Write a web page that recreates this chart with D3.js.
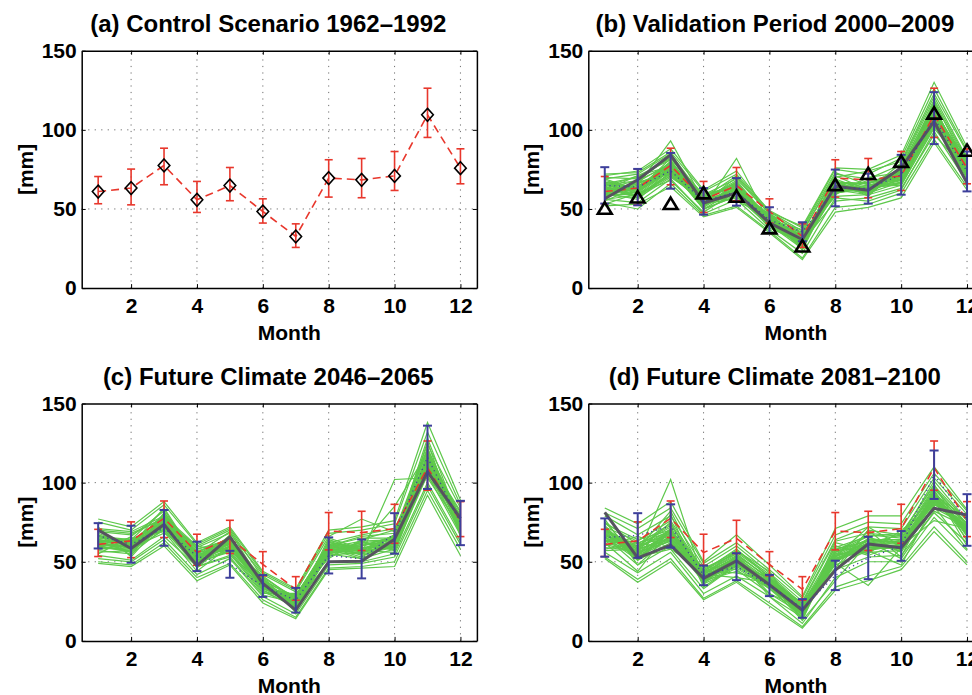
<!DOCTYPE html>
<html>
<head>
<meta charset="utf-8">
<script src="https://cdn.jsdelivr.net/npm/d3@7"></script>
<style>
  body { margin: 0; background: #fff; }
  svg { display: block; }
  text { font-family: "Liberation Sans", Arial, Helvetica, sans-serif; font-weight: bold; fill: #000; }
</style>
</head>
<body>
<svg id="chart" width="972" height="695"></svg>
<script>
// ---- data ----
const months = [1, 2, 3, 4, 5, 6, 7, 8, 9, 10, 11, 12];
const xTicks = [2, 4, 6, 8, 10, 12];
const yTicks = [0, 50, 100, 150];
const xLabel = "Month";
const yLabel = "[mm]";
const titles = [
  "(a) Control Scenario 1962\u20131992",
  "(b) Validation Period 2000\u20132009",
  "(c) Future Climate 2046\u20132065",
  "(d) Future Climate 2081\u20132100"
];

// observed monthly precipitation, control period 1962-1992 (mean and spread)
const obsMean = [61.0, 63.2, 77.5, 55.8, 64.8, 48.4, 32.6, 69.5, 68.4, 70.9, 109.5, 75.8];
const obsLo   = [53.3, 52.6, 65.3, 47.8, 55.2, 41.1, 25.7, 57.5, 57.1, 61.7, 95.2, 65.9];
const obsHi   = [70.5, 75.2, 88.4, 67.4, 76.2, 56.4, 40.6, 81.1, 81.9, 86.3, 126.3, 88.0];

// observed monthly means, validation period 2000-2009
const validObs = [50.4, 57.5, 53.4, 60.1, 58.0, 38.0, 26.5, 65.3, 72.3, 80.0, 110.5, 87.0];

// single downscaled run (thick grey line)
const runB = [56.5, 68.5, 84.2, 53.8, 60.1, 41.2, 30.7, 64.3, 61.8, 76.0, 105.3, 66.4];
const runC = [70.0, 58.4, 73.6, 47.5, 65.8, 36.3, 19.4, 50.0, 50.4, 64.3, 107.0, 77.4];
const runD = [81.2, 52.5, 60.5, 39.5, 50.6, 35.5, 19.4, 44.7, 61.2, 58.9, 83.8, 79.5];

// ensemble mean and spread (blue)
const ensMeanB = [64.9, 63.8, 74.1, 54.8, 60.8, 43.0, 35.6, 63.3, 62.9, 71.6, 107.4, 73.7];
const ensSdB   = [11.5, 11.5, 11.3, 8.4, 8.7, 8.1, 6.0, 11.6, 9.5, 12.6, 16.4, 12.6];
const ensMeanC = [66.4, 61.1, 71.4, 53.4, 48.4, 34.7, 25.7, 54.0, 51.8, 67.9, 116.0, 74.5];
const ensSdC   = [8.0, 11.7, 11.3, 9.3, 8.5, 6.9, 7.8, 11.4, 12.3, 12.8, 20.0, 14.0];
const ensMeanD = [65.3, 66.6, 72.6, 41.4, 46.9, 35.0, 20.5, 41.4, 52.4, 60.0, 105.0, 76.4];
const ensSdD   = [12.1, 14.1, 13.7, 6.2, 8.5, 6.7, 5.9, 9.3, 13.4, 9.4, 15.3, 16.3];

// ensemble members (green), one row per member, Jan..Dec
const membersB = [
  [62,66,74,55,63,45,28,64,60,72,110,78],
  [58,61,79,52,66,41,31,60,63,68,104,73],
  [66,58,71,57,60,44,26,67,66,74,115,70],
  [55,64,77,50,58,39,33,58,59,65,101,76],
  [70,69,84,54,70,47,30,71,62,79,121,82],
  [60,56,73,59,64,42,35,62,68,70,107,69],
  [64,71,81,53,57,46,24,65,61,76,112,80],
  [53,60,68,48,61,38,29,55,57,63,97,74],
  [68,63,76,56,68,43,37,73,65,71,118,77],
  [61,65,93,55,62,44,30,63,64,70,108,75],
  [63,59,75,51,82,41,27,66,60,67,109,72],
  [57,67,72,58,55,45,32,59,70,73,103,79],
  [67,62,80,52,65,40,25,68,58,77,116,71],
  [59,57,70,56,59,47,34,61,63,66,106,84],
  [72,73,86,61,72,49,38,75,72,82,126,87],
  [56,54,69,47,56,37,22,57,55,62,99,67],
  [65,68,83,55,67,43,28,66,66,75,113,78],
  [62,62,74,60,63,46,31,69,61,69,111,73],
  [54,50,66,46,52,36,19,51,53,60,94,64],
  [69,72,85,57,71,48,36,70,74,80,123,86],
  [60,64,78,53,60,42,29,64,67,68,105,76],
  [64,58,73,58,66,44,33,62,59,74,110,70],
  [58,66,75,50,58,40,27,60,64,65,102,79],
  [66,70,82,59,69,47,35,72,69,78,119,81],
  [71,74,88,62,74,48,39,76,75,84,130,89],
  [52,53,64,45,51,35,18,48,51,57,92,62],
  [63,61,77,54,62,43,30,65,62,71,108,75],
  [61,67,79,51,64,45,32,63,65,69,112,77],
  [67,63,78,57,65,41,26,67,60,75,114,74],
  [59,59,72,53,61,42,29,61,63,67,104,72],
  [60,63,80,56,60,43,33,66,61,71,111,76],
  [65,60,76,53,63,46,29,62,64,73,109,74],
  [57,65,73,55,67,40,31,64,62,69,106,78],
  [63,68,78,52,61,44,27,67,66,72,114,73],
  [69,62,82,57,64,42,34,63,60,76,117,80],
  [56,59,71,54,58,45,30,60,65,66,103,71],
  [62,71,77,58,66,41,28,65,63,70,113,77],
  [64,57,75,50,62,46,32,68,59,74,107,75],
  [59,64,79,56,60,43,26,61,67,68,110,79],
  [66,61,74,53,65,40,30,64,62,73,115,72]
];
const membersC = [
  [63,56,79,53,66,35,27,58,52,62,118,73],
  [58,62,70,49,57,40,21,63,57,56,108,80],
  [68,60,74,57,61,32,24,55,60,66,112,70],
  [55,66,82,46,64,38,19,61,54,60,126,66],
  [72,53,76,60,55,30,30,52,64,70,104,77],
  [61,59,68,55,69,36,22,65,58,63,115,82],
  [66,64,83,51,59,41,26,56,62,58,110,68],
  [52,50,64,42,52,28,17,48,49,53,98,61],
  [70,68,77,58,63,34,29,60,66,68,122,75],
  [60,57,72,52,60,37,23,54,56,61,113,72],
  [64,61,80,48,67,33,28,59,53,65,117,74],
  [57,55,71,54,58,39,20,62,59,59,106,78],
  [75,70,86,61,71,43,32,68,70,74,132,86],
  [50,48,62,40,49,26,15,46,47,50,95,58],
  [65,63,75,53,62,36,25,57,61,85,119,76],
  [59,58,73,50,56,31,22,58,55,102,103,72],
  [67,54,81,56,65,39,18,64,57,67,120,71],
  [62,65,69,44,60,35,26,53,63,57,109,79],
  [54,51,66,47,53,29,24,50,50,55,100,63],
  [69,67,78,59,68,42,31,66,77,69,124,84],
  [61,60,84,52,62,33,25,59,60,64,128,74],
  [56,57,70,47,54,37,20,55,52,58,105,67],
  [71,69,79,60,70,40,27,62,67,71,114,81],
  [64,62,76,54,63,34,29,60,65,65,116,69],
  [60,56,74,50,58,36,23,57,56,61,111,76],
  [77,72,88,62,72,44,33,70,72,76,138,89],
  [49,47,60,38,48,24,14,45,46,47,92,54],
  [66,63,78,58,64,38,28,61,58,66,121,78],
  [58,59,71,49,57,32,21,56,55,59,107,69],
  [63,61,75,53,61,36,25,58,58,63,112,73],
  [62,59,77,55,64,37,24,59,57,63,115,75],
  [65,63,72,50,60,34,27,56,60,66,111,72],
  [59,57,75,53,66,36,22,61,56,60,118,77],
  [67,61,79,48,62,39,26,58,62,64,113,70],
  [61,64,73,56,59,33,25,60,55,67,120,74],
  [64,58,76,51,63,38,23,57,61,62,109,76],
  [60,62,78,54,61,35,28,62,58,65,116,73],
  [66,60,74,52,65,37,24,55,59,61,114,71],
  [63,56,80,55,58,34,21,59,63,64,117,78],
  [58,61,73,50,62,36,26,57,57,60,110,74]
];
const membersD = [
  [68,55,66,40,50,37,18,52,60,60,90,70],
  [63,60,72,36,46,33,15,56,66,56,86,75],
  [73,51,62,43,54,40,21,48,57,64,95,66],
  [59,57,75,38,44,35,13,58,63,52,82,72],
  [77,48,60,45,57,42,23,46,70,67,99,63],
  [66,62,69,41,52,30,17,60,54,62,92,78],
  [71,53,80,34,48,38,20,51,61,58,88,69],
  [56,43,56,30,41,28,11,40,50,50,78,57],
  [74,64,70,46,55,39,24,63,68,66,101,76],
  [65,58,64,39,49,36,16,54,59,59,87,71],
  [69,52,71,42,53,34,19,50,64,61,93,67],
  [61,56,63,37,47,37,14,55,56,57,84,73],
  [81,71,84,49,62,45,27,67,75,74,106,82],
  [53,39,52,27,38,24,9,34,41,47,72,50],
  [70,59,68,40,51,36,18,53,62,63,91,70],
  [64,55,102,38,49,35,17,52,58,60,89,68],
  [75,61,74,44,56,41,22,57,67,65,97,74],
  [67,54,65,41,50,33,19,49,35,59,90,69],
  [58,62,58,44,43,38,22,44,70,53,95,60],
  [79,67,79,47,60,43,25,64,72,71,103,80],
  [66,48,67,42,40,37,24,53,72,60,76,71],
  [62,44,71,36,53,28,15,60,55,70,85,58],
  [72,63,76,44,58,40,23,59,66,68,98,76],
  [57,58,82,42,57,44,13,38,62,67,93,64],
  [60,66,59,47,45,30,20,45,53,54,81,62],
  [84,74,88,50,67,48,28,71,79,79,110,83],
  [52,37,50,26,37,22,8,32,38,45,69,48],
  [70,60,73,43,55,39,21,56,64,64,96,74],
  [75,53,58,33,48,40,16,62,57,48,86,79],
  [67,56,68,40,51,36,18,52,61,60,91,71],
  [67,57,67,41,51,37,19,53,62,61,92,71],
  [70,53,64,38,49,35,17,51,58,59,89,69],
  [64,59,70,42,53,38,20,55,64,62,94,73],
  [72,55,66,39,47,34,18,50,60,58,88,70],
  [66,51,69,43,52,36,16,54,63,63,91,72],
  [69,58,65,40,50,39,21,52,59,60,90,68],
  [63,54,71,37,54,35,19,56,61,57,93,74],
  [71,56,63,41,48,37,17,49,65,62,87,70],
  [65,60,68,44,51,33,20,54,57,61,92,67],
  [68,52,70,39,49,38,18,51,62,59,89,73]
];

// ---- layout ----
const panelW = 395.2, panelH = 237.4;
const panels = [
  { left: 81.7,  top: 50.7,  title: titles[0], markers: "diamond" },
  { left: 588.3, top: 50.7,  title: titles[1], members: membersB, run: runB, mean: ensMeanB, sd: ensSdB, markers: "triangle" },
  { left: 81.7,  top: 403.5, title: titles[2], members: membersC, run: runC, mean: ensMeanC, sd: ensSdC },
  { left: 588.3, top: 403.5, title: titles[3], members: membersD, run: runD, mean: ensMeanD, sd: ensSdD }
];

const colors = {
  green: "#5ec84b",
  red: "#e8372c",
  blue: "#3d3f9b",
  grey: "#56535f",
  grid: "#6f6f6f"
};

const svg = d3.select("#chart");

panels.forEach(p => {
  const x = d3.scaleLinear().domain([0.5, 12.5]).range([p.left, p.left + panelW]);
  const y = d3.scaleLinear().domain([0, 150]).range([p.top + panelH, p.top]);
  const g = svg.append("g");

  // dotted grid
  g.append("g").selectAll("line.vg").data(xTicks).join("line")
    .attr("x1", d => x(d)).attr("x2", d => x(d))
    .attr("y1", y(0)).attr("y2", y(150))
    .attr("stroke", colors.grid).attr("stroke-width", 1).attr("stroke-dasharray", "1.2,5.3");
  g.append("g").selectAll("line.hg").data(yTicks.slice(1, 3)).join("line")
    .attr("x1", x(0.5)).attr("x2", x(12.5))
    .attr("y1", d => y(d)).attr("y2", d => y(d))
    .attr("stroke", colors.grid).attr("stroke-width", 1).attr("stroke-dasharray", "1.2,5.3");

  const line = d3.line().x((d, i) => x(months[i])).y(d => y(d));

  // ensemble members
  if (p.members) {
    g.append("g").selectAll("path").data(p.members).join("path")
      .attr("d", line).attr("fill", "none")
      .attr("stroke", colors.green).attr("stroke-width", 1.2);
  }

  // observed control climate: dashed red line with error bars
  const errorBars = (sel, lo, hi, color, width, capHalf) => {
    const bars = sel.append("g").attr("stroke", color).attr("stroke-width", width);
    bars.selectAll("line.v").data(months).join("line")
      .attr("x1", m => x(m)).attr("x2", m => x(m))
      .attr("y1", (m, i) => y(lo[i])).attr("y2", (m, i) => y(hi[i]));
    bars.selectAll("line.lo").data(months).join("line")
      .attr("x1", m => x(m) - capHalf).attr("x2", m => x(m) + capHalf)
      .attr("y1", (m, i) => y(lo[i])).attr("y2", (m, i) => y(lo[i]));
    bars.selectAll("line.hi").data(months).join("line")
      .attr("x1", m => x(m) - capHalf).attr("x2", m => x(m) + capHalf)
      .attr("y1", (m, i) => y(hi[i])).attr("y2", (m, i) => y(hi[i]));
  };

  errorBars(g, obsLo, obsHi, colors.red, 1.6, 4);
  g.append("path").datum(obsMean).attr("d", line).attr("fill", "none")
    .attr("stroke", colors.red).attr("stroke-width", 1.6).attr("stroke-dasharray", "8,5");

  if (p.run) {
    // single run
    g.append("path").datum(p.run).attr("d", line).attr("fill", "none")
      .attr("stroke", colors.grey).attr("stroke-width", 3).attr("stroke-linejoin", "round");
    // ensemble mean (dotted) with spread bars
    const lo = p.mean.map((m, i) => m - p.sd[i]);
    const hi = p.mean.map((m, i) => m + p.sd[i]);
    g.append("path").datum(p.mean).attr("d", line).attr("fill", "none")
      .attr("stroke", colors.blue).attr("stroke-width", 1.3).attr("stroke-dasharray", "1.2,3.5");
    errorBars(g, lo, hi, colors.blue, 2, 4.5);
  }

  if (p.markers === "diamond") {
    g.append("g").selectAll("path").data(obsMean).join("path")
      .attr("transform", (d, i) => `translate(${x(months[i])},${y(d)})`)
      .attr("d", "M0,-6.4L5.8,0L0,6.4L-5.8,0Z")
      .attr("fill", "none").attr("stroke", "#000").attr("stroke-width", 1.6);
  }
  if (p.markers === "triangle") {
    g.append("g").selectAll("path").data(validObs).join("path")
      .attr("transform", (d, i) => `translate(${x(months[i])},${y(d)})`)
      .attr("d", "M0,-6L6.9,5.4L-6.9,5.4Z")
      .attr("fill", "none").attr("stroke", "#000").attr("stroke-width", 2.6)
      .attr("stroke-linejoin", "miter");
  }

  // axes box with inward ticks
  const ax = svg.append("g");
  ax.append("g").attr("transform", `translate(0,${y(0)})`)
    .call(d3.axisBottom(x).tickValues(xTicks).tickSize(-4).tickPadding(10).tickSizeOuter(0));
  ax.append("g").attr("transform", `translate(${x(0.5)},0)`)
    .call(d3.axisLeft(y).tickValues(yTicks).tickSize(-4).tickPadding(5).tickSizeOuter(0));
  ax.append("g").attr("transform", `translate(0,${y(150)})`)
    .call(d3.axisTop(x).tickValues(xTicks).tickSize(-4).tickFormat("").tickSizeOuter(0));
  ax.append("g").attr("transform", `translate(${x(12.5)},0)`)
    .call(d3.axisRight(y).tickValues(yTicks).tickSize(-4).tickFormat("").tickSizeOuter(0));
  ax.selectAll(".domain").attr("stroke", "#000").attr("stroke-width", 1.5);
  ax.selectAll(".tick line").attr("stroke", "#000").attr("stroke-width", 1);
  ax.selectAll(".tick text").attr("font-size", 21).attr("font-family", null).attr("fill", "#000");

  // titles and axis labels
  const cx = (x(0.5) + x(12.5)) / 2;
  svg.append("text").attr("x", cx - 11).attr("y", p.top - 19)
    .attr("text-anchor", "middle").attr("font-size", 24).text(p.title);
  svg.append("text").attr("x", cx + 10).attr("y", y(0) + 52)
    .attr("text-anchor", "middle").attr("font-size", 21).text(xLabel);
  svg.append("text")
    .attr("transform", `translate(${x(0.5) - 49},${(y(0) + y(150)) / 2}) rotate(-90)`)
    .attr("text-anchor", "middle").attr("font-size", 21).text(yLabel);
});
</script>
</body>
</html>
